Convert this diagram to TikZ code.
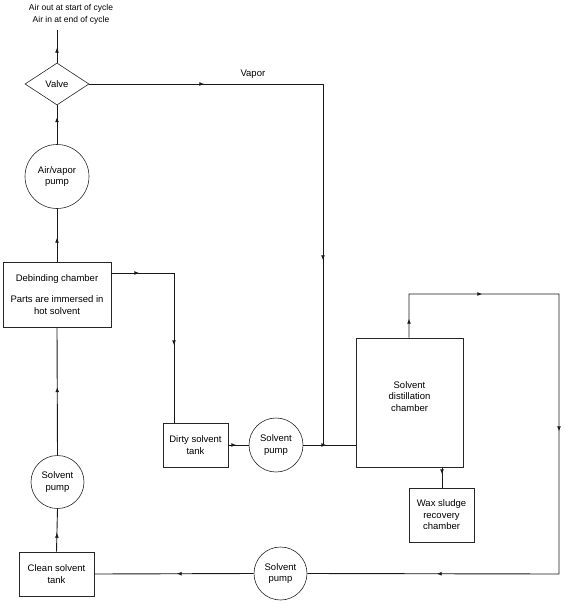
\documentclass[tikz,border=0pt]{standalone}
\usepackage{fontspec}
\setmainfont{Liberation Sans}
\usetikzlibrary{shapes.geometric, arrows.meta, decorations.markings}

\begin{document}
\begin{tikzpicture}[x=1pt, y=-1pt,
		>={Latex[length=5pt, width=4pt]},
		pipe/.style={draw=black!90, line width=0.9pt},
		tip/.style={postaction={decorate, decoration={markings, mark=at position #1 with {\arrow{>}}}}},
		unit/.style={draw=black!85, line width=0.6pt, align=center, inner sep=1pt,
				font=\fontsize{9.5}{11.5}\selectfont},
		tank/.style={unit, rectangle},
		pump/.style={unit, circle, minimum size=#1},
		pump/.default=54pt]

		\useasboundingbox (0,0) rectangle (565,605);

		% Узлы схемы
		\node[font=\fontsize{8.5}{12}\selectfont, align=center] (airtxt) at (71,14) {Air out at start of cycle\\Air in at end of cycle};
		\coordinate (airend) at (57,30);
		\node[unit, diamond, aspect=1.52, inner sep=0pt, minimum width=64pt, minimum height=42pt] (valve) at (57,84) {Valve};
		\node[pump=64pt] (avpump) at (57,176.5) {Air/vapor\\pump};
		\node[tank, minimum width=108pt, minimum height=65pt] (debind) at (57,294.5) {Debinding chamber\\[10pt]Parts are immersed in\\hot solvent};
		\node[pump=53pt] (cpump) at (57.5,482) {Solvent\\pump};
		\node[tank, minimum width=75pt, minimum height=44pt] (ctank) at (56.5,574) {Clean solvent\\tank};
		\node[tank, minimum width=65pt, minimum height=44pt] (dtank) at (195.5,445) {Dirty solvent\\tank};
		\node[pump] (dpump) at (276,445) {Solvent\\pump};
		\node[tank, minimum width=107pt, minimum height=129pt, text depth=12pt] (still) at (409.5,402.5) {Solvent\\distillation\\chamber};
		\node[tank, minimum width=65pt, minimum height=54pt] (wax) at (441.5,515) {Wax sludge\\recovery\\chamber};
		\node[pump=53pt] (rpump) at (280.5,573.5) {Solvent\\pump};

		\coordinate (join) at (323,445);

		% Трубопроводы
		\draw[pipe, tip=15pt] (valve.north) -- (airend);
		\draw[pipe, tip=27pt] (avpump.north) -- (valve.south);
		\draw[pipe, tip=24pt] (debind.north) -- (avpump.south);
		\draw[pipe, tip=68pt] (cpump.north) -- (debind.south);
		\draw[pipe, tip=19pt] (ctank.north) -- (cpump.south);
		\draw[pipe, tip=115pt, tip=410pt] (valve.east) -- (323,84) node[pos=0.7, above=2pt, font=\fontsize{9.5}{11.5}\selectfont] (vapor) {Vapor} -- (join);
		\draw[pipe, tip=28pt, tip=135pt] (debind.east |- 0,273) -- (174,273) -- (dtank.north -| 174,0);
		\draw[pipe, tip=8pt] (dtank.east) -- (dpump.west);
		\draw[pipe, tip=23pt] (dpump.east) -- (still.west |- dpump.east);
		\draw[pipe, tip=7pt] (still.south -| 442,0) -- (wax.north -| 442,0);
		\draw[pipe, tip=19pt, tip=117pt, tip=331pt, tip=596pt] (still.north -| 409,0) -- (409,294) -- (559,294) -- (559,574) -- (rpump.east);
		\draw[pipe, tip=77pt] (rpump.west) -- (ctank.east);
	\end{tikzpicture}
\end{document}
